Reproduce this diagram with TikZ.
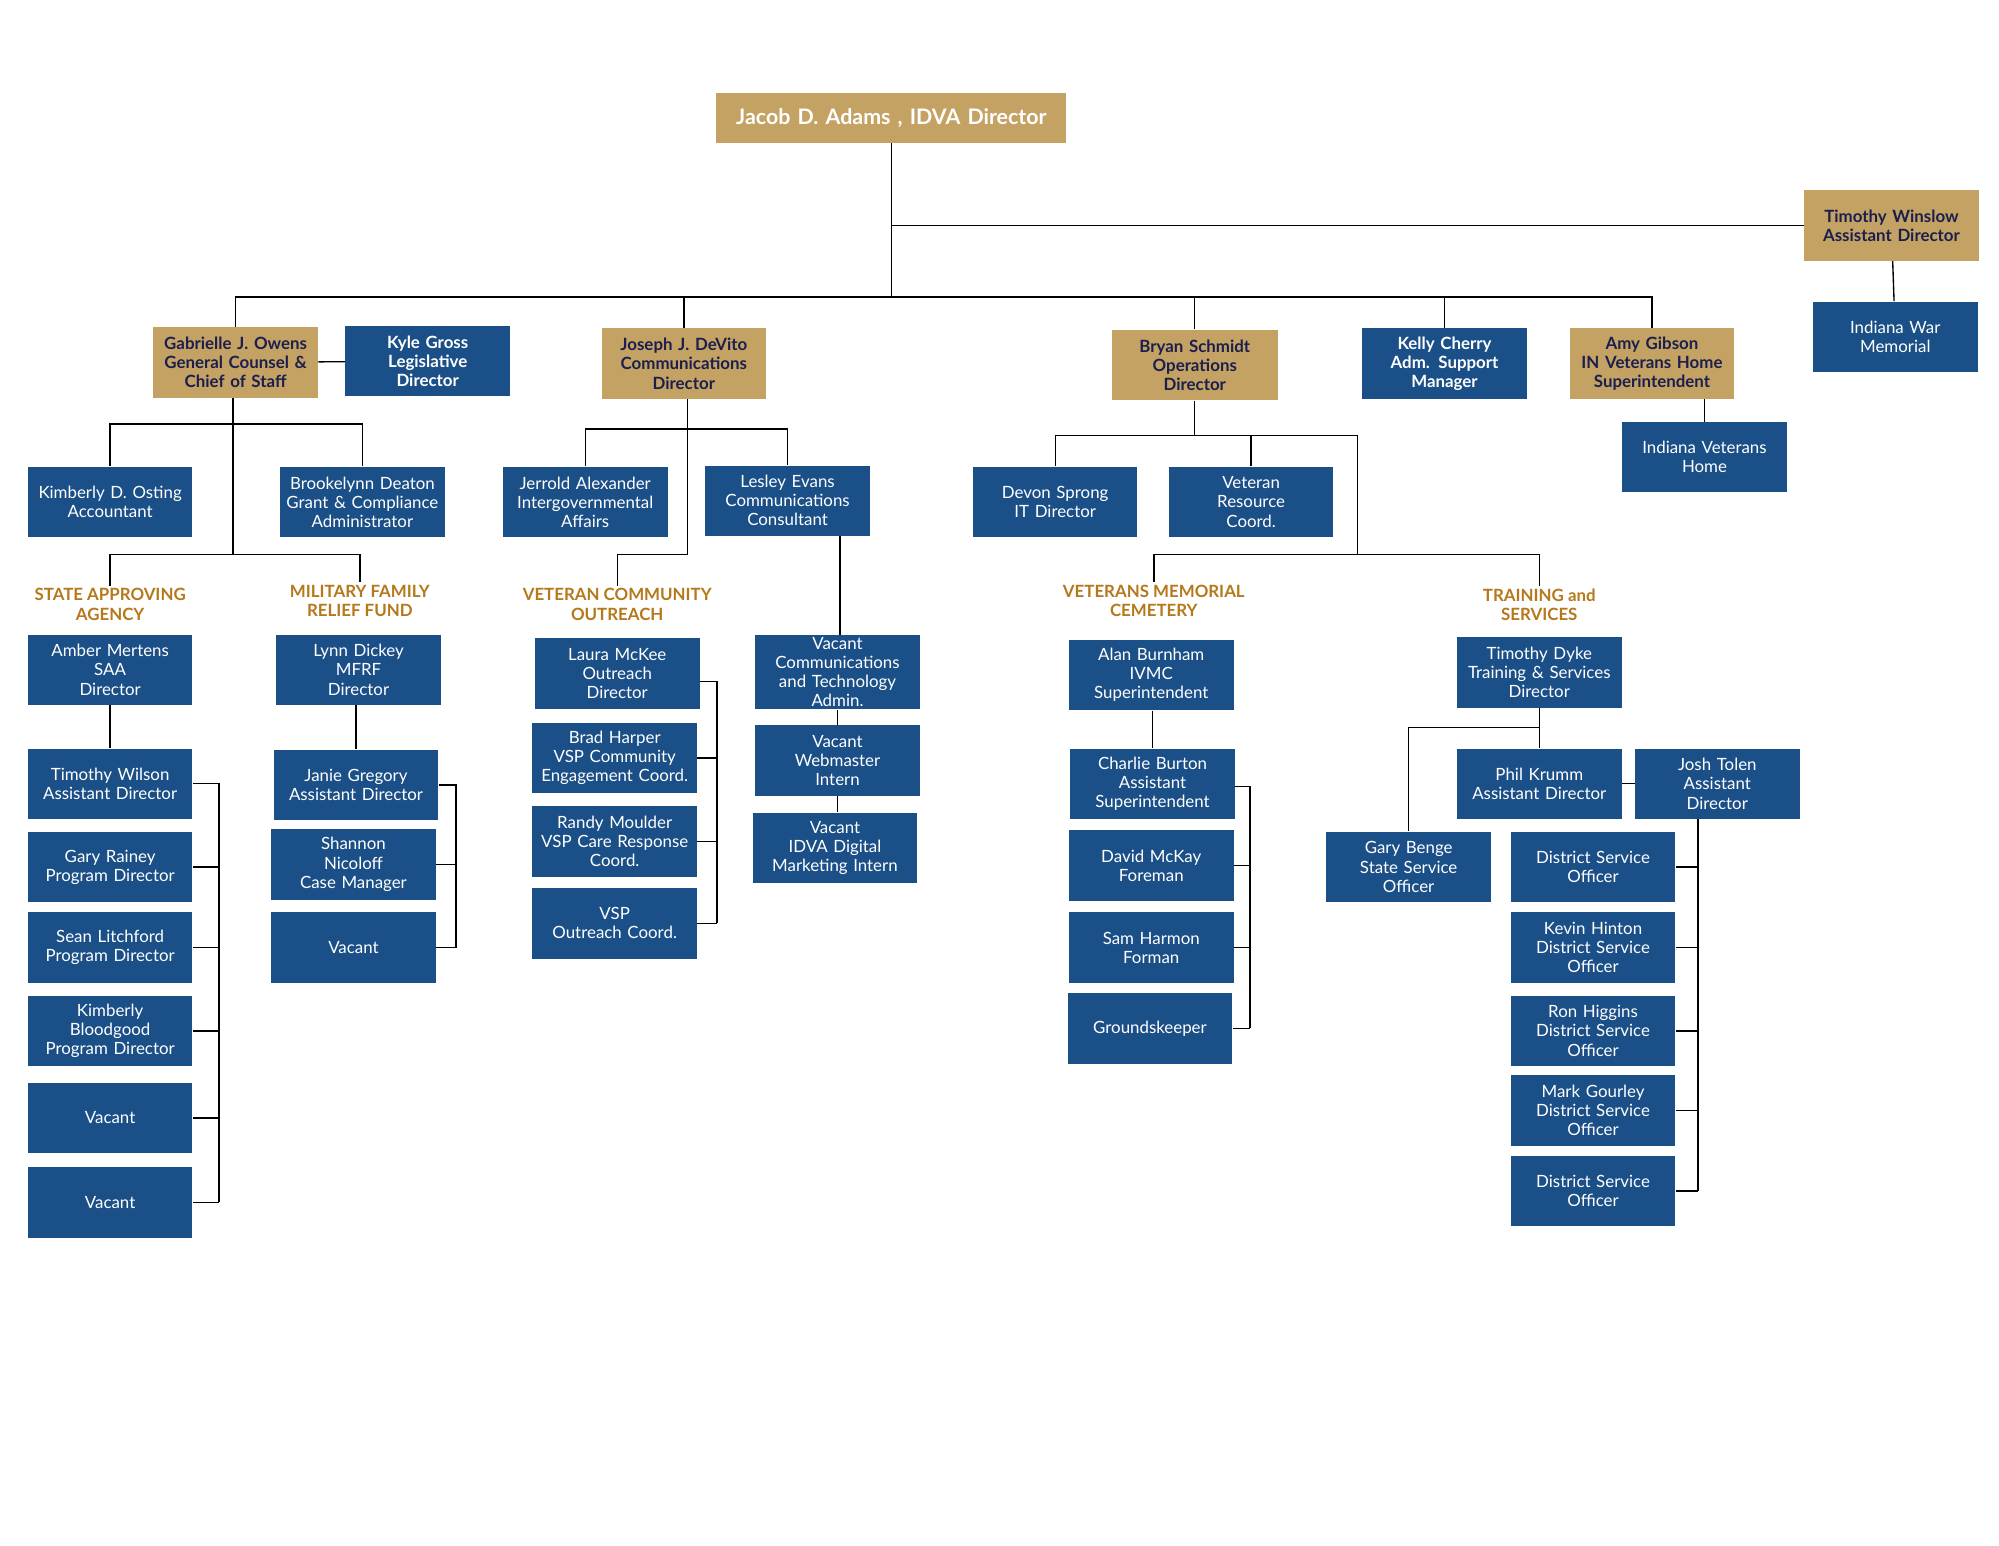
\documentclass[tikz,border=0pt]{standalone}
\usepackage{fontspec}
\setmainfont{Lato}
\usetikzlibrary{positioning, calc}
\definecolor{idvagold}{HTML}{C4A263}
\definecolor{idvablue}{HTML}{1B4F87}
\definecolor{idvanavy}{HTML}{1B1F4E}
\definecolor{idvasect}{HTML}{B5781A}

\begin{document}
\begin{tikzpicture}[x=0.02cm, y=-0.02cm,
    blu/.style={rectangle, fill=idvablue, text=white, minimum width=2.54cm, minimum height=1.1cm, text width=2.5cm, align=center, inner sep=1pt, font=\fontsize{7.5}{8.5}\selectfont},
    gld/.style={blu, fill=idvagold, text=idvanavy, font=\fontsize{7.5}{8.5}\selectfont\bfseries},
    bbl/.style={blu, font=\fontsize{7.5}{8.5}\selectfont\bfseries},
    sect/.style={text=idvasect, align=center, inner sep=1pt, font=\fontsize{7.5}{8.5}\selectfont\bfseries},
    conn/.style={draw=black, line width=0.6pt},
]
\fill[white] (0,0) rectangle (1561,1207);

% top level
\node[gld, minimum width=5.44cm, text width=5.4cm, minimum height=0.78cm, font=\fontsize{9.5}{11}\selectfont\bfseries, text=white] (jacob) at (696,92) {Jacob D. Adams , IDVA Director};
\node[gld, minimum width=2.72cm] (winslow) at (1477,176) {Timothy Winslow\\Assistant Director};
\node[blu] (warmem) at (1480,263) {Indiana War\\Memorial};
\node[gld] (gabrielle) at (184,283) {Gabrielle J. Owens\\General Counsel \&\\Chief of Staff};
\node[bbl] (kyle) at (334,282) {Kyle Gross\\Legislative\\Director};
\node[gld] (joseph) at (534,284) {Joseph J. DeVito\\Communications\\Director};
\node[gld, minimum width=2.6cm] (bryan) at (933,285) {Bryan Schmidt\\Operations\\Director};
\node[bbl] (kelly) at (1128,284) {Kelly Cherry\\Adm. Support\\Manager};
\node[gld] (amy) at (1290,284) {Amy Gibson\\IN Veterans Home\\Superintendent};
\node[blu] (vethome) at (1331,357) {Indiana Veterans\\Home};

% second level
\node[blu] (kosting) at (86,392) {Kimberly D. Osting\\Accountant};
\node[blu] (brook) at (283,392) {Brookelynn Deaton\\Grant \& Compliance\\Administrator};
\node[blu] (jerrold) at (457,392) {Jerrold Alexander\\Intergovernmental\\Affairs};
\node[blu] (lesley) at (615,391) {Lesley Evans\\Communications\\Consultant};
\node[blu] (devon) at (824,392) {Devon Sprong\\IT Director};
\node[blu] (vrc) at (977,392) {Veteran\\Resource\\Coord.};

% section labels
\node[sect] (saalbl) at (86,472) {STATE APPROVING\\AGENCY};
\node[sect] (mfrflbl) at (281,469) {MILITARY FAMILY\\RELIEF FUND};
\node[sect] (vcolbl) at (482,472) {VETERAN COMMUNITY\\OUTREACH};
\node[sect] (vmclbl) at (901,469) {VETERANS MEMORIAL\\CEMETERY};
\node[sect] (tslbl) at (1202,472) {TRAINING and\\SERVICES};

% state approving agency
\node[blu] (amber) at (86,523) {Amber Mertens\\SAA\\Director};
\node[blu] (twilson) at (86,612) {Timothy Wilson\\Assistant Director};
\node[blu] (rainey) at (86,677) {Gary Rainey\\Program Director};
\node[blu] (sean) at (86,740) {Sean Litchford\\Program Director};
\node[blu] (kbloodgood) at (86,805) {Kimberly\\Bloodgood\\Program Director};
\node[blu] (saavac1) at (86,873) {Vacant};
\node[blu] (saavac2) at (86,939) {Vacant};

% military family relief fund
\node[blu] (lynn) at (280,523) {Lynn Dickey\\MFRF\\Director};
\node[blu] (janie) at (278,613) {Janie Gregory\\Assistant Director};
\node[blu] (shannon) at (276,675) {Shannon\\Nicoloff\\Case Manager};
\node[blu] (mfrfvac) at (276,740) {Vacant};

% outreach
\node[blu] (laura) at (482,526) {Laura McKee\\Outreach\\Director};
\node[blu] (brad) at (480,592) {Brad Harper\\VSP Community\\Engagement Coord.};
\node[blu] (randy) at (480,657) {Randy Moulder\\VSP Care Response\\Coord.};
\node[blu] (vspoc) at (480,721) {VSP\\Outreach Coord.};
\node[blu] (vaccomm) at (654,525) {Vacant\\Communications\\and Technology\\Admin.};
\node[blu] (vacweb) at (654,594) {Vacant\\Webmaster\\Intern};
\node[blu] (vacidva) at (652,662) {Vacant\\IDVA Digital\\Marketing Intern};

% cemetery
\node[blu] (alan) at (899,527) {Alan Burnham\\IVMC\\Superintendent};
\node[blu] (charlie) at (900,612) {Charlie Burton\\Assistant\\Superintendent};
\node[blu] (mckay) at (899,676) {David McKay\\Foreman};
\node[blu] (harmon) at (899,740) {Sam Harmon\\Forman};
\node[blu] (grounds) at (898,803) {Groundskeeper};

% training and services
\node[blu] (dyke) at (1202,525) {Timothy Dyke\\Training \& Services\\Director};
\node[blu] (krumm) at (1202,612) {Phil Krumm\\Assistant Director};
\node[blu] (tolen) at (1341,612) {Josh Tolen\\Assistant\\Director};
\node[blu] (benge) at (1100,677) {Gary Benge\\State Service\\Officer};
\node[blu] (dso1) at (1244,677) {District Service\\Officer};
\node[blu] (hinton) at (1244,740) {Kevin Hinton\\District Service\\Officer};
\node[blu] (higgins) at (1244,805) {Ron Higgins\\District Service\\Officer};
\node[blu] (gourley) at (1244,867) {Mark Gourley\\District Service\\Officer};
\node[blu] (dso2) at (1244,930) {District Service\\Officer};

% connectors: top
\coordinate (bus) at (694,232);
\draw[conn] (jacob.south) -- (jacob.south |- bus);
\draw[conn] (jacob.south |- winslow.west) -- (winslow.west);
\draw[conn] (winslow) -- (warmem);
\draw[conn] (gabrielle.north) |- (bus) -| (amy.north);
\foreach \n in {joseph, bryan, kelly}
    \draw[conn] (\n.north) -- (\n.north |- bus);
\draw[conn] (gabrielle) -- (kyle);
\draw[conn] (amy.south -| vethome) -- (vethome);

% general counsel
\coordinate (gmid) at (182,331);
\coordinate (gbot) at (182,433);
\draw[conn] (gabrielle.south -| gmid) -- (gbot);
\draw[conn] (kosting.north) |- (gmid) -| (brook.north);
\draw[conn] (saalbl.north) |- (gbot) -| (mfrflbl.north);
\draw[conn] (amber) -- (twilson);
\coordinate (saabr) at (171,612);
\draw[conn] (twilson.east |- saabr) -- (saabr) -- (saabr |- saavac2.east);
\foreach \n in {rainey, sean, kbloodgood, saavac1, saavac2}
    \draw[conn] (\n.east) -- (\n.east -| saabr);
\draw[conn] (lynn.south -| janie) -- (janie);
\coordinate (mfrfbr) at (356,613);
\draw[conn] (janie.east) -- (mfrfbr) -- (mfrfbr |- mfrfvac.east);
\foreach \n in {shannon, mfrfvac}
    \draw[conn] (\n.east) -- (\n.east -| mfrfbr);

% communications
\coordinate (jmid) at (537,335);
\coordinate (jbot) at (537,433);
\draw[conn] (joseph.south -| jmid) -- (jbot) -| (vcolbl.north);
\draw[conn] (jerrold.north) |- (jmid) -| (lesley.north);
\coordinate (vcobr) at (560,532);
\draw[conn] (laura.east |- vcobr) -- (vcobr) -- (vcobr |- vspoc.east);
\foreach \n in {brad, randy, vspoc}
    \draw[conn] (\n.east) -- (\n.east -| vcobr);
\draw[conn] (lesley.south -| 656,0) -- (vaccomm.north -| 656,0);
\draw[conn] (vaccomm) -- (vacweb);
\draw[conn] (vacweb.south) -- (vacidva.north -| vacweb.south);

% operations
\coordinate (bmid) at (933,340);
\coordinate (bbot) at (1060,433);
\draw[conn] (bryan.south) -- (bmid);
\draw[conn] (devon.north) |- (bmid) -| (bbot);
\draw[conn] (vrc.north) -- (vrc.north |- bmid);
\draw[conn] (vmclbl.north) |- (bbot) -| (tslbl.north);
\draw[conn] (alan.south -| charlie) -- (charlie);
\coordinate (vmcbr) at (976,614);
\draw[conn] (charlie.east |- vmcbr) -- (vmcbr) -- (vmcbr |- grounds.east);
\foreach \n in {mckay, harmon, grounds}
    \draw[conn] (\n.east) -- (\n.east -| vmcbr);

% training and services
\coordinate (tmid) at (1202,568);
\draw[conn] (dyke.south) -- (krumm.north);
\draw[conn] (tmid) -| (benge.north);
\draw[conn] (krumm) -- (tolen);
\coordinate (tsbr) at (1326,640);
\draw[conn] (tolen.south -| tsbr) -- (tsbr |- dso2.east);
\foreach \n in {dso1, hinton, higgins, gourley, dso2}
    \draw[conn] (\n.east) -- (\n.east -| tsbr);
\end{tikzpicture}
\end{document}
